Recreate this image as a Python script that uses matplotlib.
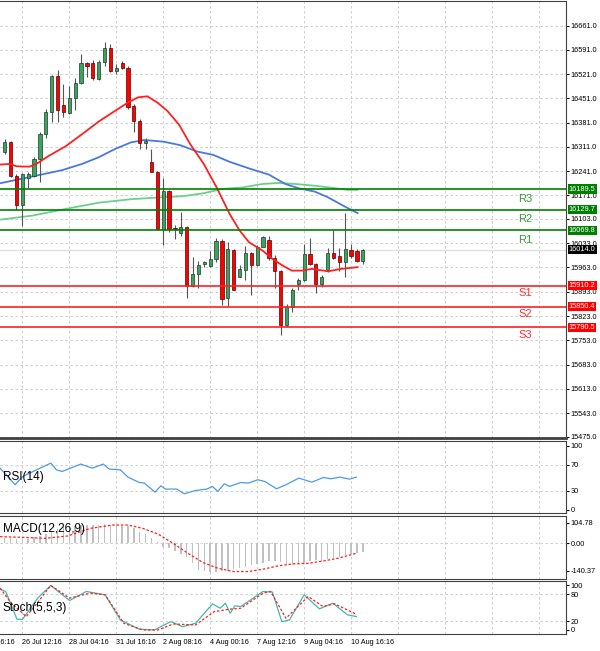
import matplotlib
matplotlib.use("Agg")
import matplotlib.pyplot as plt
import matplotlib.transforms as mtrans
import numpy as np

# ---------------- data ----------------
opens  = [16295,16326,16226,16144,16221,16228,16277,16348,16413,16515,16432,16409,16451,16495,16554,16554,16506,16557,16596,16529,16552,16539,16429,16386,16321,16268,16240,16074,16185,16077,16062,16080,15911,15943,15972,15966,15988,16039,15876,16014,15937,15956,16005,15969,16023,16043,15991,15954,15796,15849,15916,15928,16001,15974,15914,15956,16005,15995,15978,16014,16010,15981]
highs  = [16334,16329,16233,16236,16238,16281,16353,16420,16519,16532,16492,16488,16511,16578,16556,16561,16563,16614,16607,16550,16559,16543,16434,16391,16337,16305,16242,16221,16187,16087,16122,16084,15993,15983,15983,16012,16048,16044,16036,16017,15969,16026,16007,16029,16055,16055,15998,15956,15858,15905,15933,16031,16048,15976,15940,16020,16072,16020,16121,16031,16017,16017]
lows   = [16290,16223,16129,16083,16191,16223,16211,16336,16382,16382,16396,16406,16417,16492,16513,16504,16504,16543,16526,16521,16537,16420,16353,16305,16305,16238,16070,16029,16065,16046,16055,15875,15906,15904,15964,15964,15978,15854,15851,15897,15935,15928,15885,15966,16022,15985,15904,15767,15793,15834,15897,15924,15969,15889,15906,15950,15988,15952,15935,15991,15978,15974]
closes = [16324,16226,16144,16233,16233,16277,16348,16413,16515,16418,16412,16451,16495,16554,16545,16509,16557,16596,16529,16540,16540,16427,16386,16321,16329,16240,16074,16183,16074,16073,16079,15911,15943,15969,15980,15988,16039,15873,16017,15899,15959,16005,15969,16023,16050,15991,15954,15796,15849,15899,15928,16002,15974,15914,15937,16005,15991,15978,16016,15995,15981,16014]

ma_red_x = [-0.8,0.9,2.0,4.2,5.4,7.6,10.4,13.2,16.0,18.8,21.0,22.7,24.3,26.0,27.7,29.7,31.6,33.9,36.1,38.3,40.0,41.6,43.9,45.6,47.3,48.9,50.6,52.3,55.1,57.3,60.1]
ma_red_y = [16260,16262,16255,16254,16262,16286,16313,16348,16384,16415,16439,16454,16457,16439,16415,16375,16319,16262,16194,16118,16070,16036,16012,15988,15969,15954,15954,15959,15952,15959,15964]
ma_blue_x = [-0.8,4.8,9.8,13.2,16.0,18.8,21.5,23.8,27.1,29.9,32.7,35.5,38.3,41.6,45.0,47.8,50.0,52.8,55.0,57.8,60.1]
ma_blue_y = [16206,16226,16244,16262,16281,16305,16324,16331,16326,16316,16298,16288,16268,16249,16231,16204,16192,16182,16166,16140,16120]
ma_green_x = [-0.8,4.8,10.4,16.0,21.5,27.1,30.5,33.8,37.2,40.5,43.9,46.7,49.5,52.8,56.2,58.4,60.1]
ma_green_y = [16101,16113,16132,16150,16160,16166,16169,16177,16190,16194,16204,16207,16204,16199,16192,16187,16187]

res_levels = [16189.5, 16129.7, 16069.8]
res_names = ["R3", "R2", "R1"]
sup_levels = [15910.2, 15850.4, 15790.5]
sup_names = ["S1", "S2", "S3"]
last_price = 16014.0

price_ticks = [16661,16591,16521,16451,16381,16311,16241,16171,16103,16033,15963,15893,15823,15753,15683,15613,15543,15475]

rsi_x = [-0.79,1.77,3.06,7.86,8.81,9.77,12.97,14.9,16.8,17.8,19.7,21.0,22.9,23.8,25.6,26.6,27.4,29.3,30.6,32.5,34.4,35.4,36.3,37.4,38.3,40.2,41.5,43.1,44.3,46.3,47.9,50.1,52.3,54.3,55.5,57.1,58.7,59.9]
rsi_y = [64.8,38.9,51.8,72.6,62.2,59.6,71.1,64.8,71.1,63.3,62.2,50.8,42.5,41.5,27.5,37.3,32.2,32.2,24.9,30.0,32.2,36.3,28.5,40.4,36.3,42.5,41.5,46.7,44.1,32.7,38.9,49.3,43.0,50.3,48.2,50.8,47.7,50.8]

macd_hist = [28,25,22,22,24,30,38,48,60,75,82,86,90,92,94,95,95,96,95,93,90,86,76,60,45,28,5,-20,-25,-40,-55,-70,-100,-135,-142,-145,-145,-140,-140,-132,-128,-120,-112,-108,-98,-90,-90,-95,-112,-112,-105,-100,-90,-86,-88,-80,-74,-70,-62,-55,-50,-45]
macd_sig_x = [-0.79,3.05,6.89,10.7,14.6,18.4,21.0,23.5,26.1,28.7,31.2,33.8,36.3,38.9,41.5,44.0,46.6,49.1,51.7,54.3,56.8,59.9]
macd_sig_y = [33.7,30.3,25.2,37.1,76.1,93,93,76.1,47.3,-0.2,-51,-98.5,-127,-144,-144,-132,-115,-105,-102,-90,-76,-51]

stk_x = [-0.79,0.17,2.09,3.05,5.61,7.85,11.05,13.9,17.1,19.7,22.9,25.5,28.3,30.3,32.5,35.4,36.7,37.6,38.4,39.2,40.2,44.0,45.6,47.2,48.5,51.0,53.6,55.9,58.4,59.9]
stk_y = [91.8,86.5,24.1,24.1,71.5,100,66.2,86.5,79,22.6,2,0,18.8,7.5,15,58.7,48.9,60.2,37.6,54.2,52.7,86.5,85,18.8,22.6,79,47.4,60.2,33.9,30.1]
std_x = [-0.79,1.13,3.69,5.29,7.85,11.05,14.6,17.1,20.3,23.5,26.1,28.7,32.5,35.7,38.3,40.2,44.0,45.3,47.9,51.7,54.2,56.2,59.9]
std_y = [94,60.2,30.1,56.4,100,71.5,82.8,79,15,0,0,13.5,11.3,41.4,46.7,48.9,82.8,86.5,26.3,75.2,52.7,58.7,35.3]

grid_idx = [3,11,19,27,35,43,51,59,67,75,83,91]
date_labels = ["25 Jul 16:16","26 Jul 12:16","28 Jul 04:16","31 Jul 16:16","2 Aug 08:16","4 Aug 00:16","7 Aug 12:16","9 Aug 04:16","10 Aug 16:16"]
date_idx = [-5,3,11,19,27,35,43,51,59]

# ---------------- layout ----------------
W, H = 600, 651
fig = plt.figure(figsize=(6, 6.51), dpi=100)
fig.patch.set_facecolor("white")
R = 566 / W
FONT = "Liberation Sans"

def ax_px(top, bot):
    return fig.add_axes([0, 1 - bot / H, R, (bot - top) / H])

ax = ax_px(1, 438)
ax_rsi = ax_px(441, 513)
ax_macd = ax_px(516, 579)
ax_st = ax_px(581, 634)

XL = (-0.8, 95.6)
gridkw = dict(color="#c8c8c8", ls=(0, (3, 3)), lw=0.6)
for a in (ax, ax_rsi, ax_macd, ax_st):
    a.set_xlim(*XL)
    a.yaxis.tick_right()
    a.tick_params(axis="y", labelsize=5.3, length=2, pad=1.5, colors="black")
    for t in a.get_yticklabels():
        t.set_fontfamily(FONT)
    a.set_xticks(grid_idx)
    a.tick_params(axis="x", length=0, labelbottom=False)
    a.grid(True, axis="x", **gridkw)
    for s in a.spines.values():
        s.set_color("#404040"); s.set_linewidth(0.8)
    a.spines["left"].set_visible(False)
ax.spines["bottom"].set_linewidth(2)

# ---- main price chart ----
ax.set_ylim(15471, 16732)
ax.set_yticks(price_ticks)
ax.set_yticklabels([f"{t:.1f}" for t in price_ticks], fontfamily=FONT)
ax.grid(True, axis="y", **gridkw)
x = np.arange(len(opens))
o = np.array(opens); c = np.array(closes); h = np.array(highs); l = np.array(lows)
up = c >= o
ax.vlines(x, l, h, color="#555555", lw=0.8, zorder=3)
ax.bar(x[up], c[up] - o[up], bottom=o[up], width=0.55, color="#3aa35f", edgecolor="#1c3d28", lw=0.5, zorder=4)
ax.bar(x[~up], o[~up] - c[~up], bottom=c[~up], width=0.55, color="#ff0000", edgecolor="#5a0000", lw=0.5, zorder=4)

ax.plot(ma_green_x, ma_green_y, color="#6ccf8d", lw=1.3, zorder=2)
ax.plot(ma_blue_x, ma_blue_y, color="#4a78e0", lw=1.3, zorder=2)
ax.plot(ma_red_x, ma_red_y, color="#ff2020", lw=1.3, zorder=5)

ax.axhline(last_price, color="#e0e0e0", lw=1, zorder=1)
btrans = mtrans.blended_transform_factory(ax.transAxes, ax.transData)
boxkw = dict(transform=btrans, fontsize=5.3, color="white", va="center", ha="left",
             fontfamily=FONT, clip_on=False, zorder=10)
for lv, nm in zip(res_levels, res_names):
    ax.axhline(lv, color="#008000", lw=1.2, zorder=6)
    ax.text(88.6, lv - 28, nm, color="#3a9a3a", fontsize=8, ha="center", va="center", fontfamily=FONT)
    ax.text(1.005, lv, f"{lv:.1f}", bbox=dict(boxstyle="square,pad=0.15", fc="#008000", ec="none"), **boxkw)
for lv, nm in zip(sup_levels, sup_names):
    ax.axhline(lv, color="#ff2020", lw=1.2, zorder=6)
    ax.text(88.6, lv - 22, nm, color="#ff3030", fontsize=8, ha="center", va="center", fontfamily=FONT)
    ax.text(1.005, lv, f"{lv:.1f}", bbox=dict(boxstyle="square,pad=0.15", fc="#ff0000", ec="none"), **boxkw)
ax.text(1.005, last_price, f"{last_price:.1f}", bbox=dict(boxstyle="square,pad=0.15", fc="black", ec="none"), **boxkw)

# ---- RSI ----
ax_rsi.set_ylim(-5, 107)
ax_rsi.set_yticks([100, 70, 30, 0])
ax_rsi.set_yticklabels(["100", "70", "30", "0"], fontfamily=FONT)
for v in (70, 30):
    ax_rsi.axhline(v, **gridkw)
ax_rsi.plot(rsi_x, rsi_y, color="#4a9be8", lw=0.9)
ax_rsi.text(0.005, 0.5, "RSI(14)", transform=ax_rsi.transAxes, fontsize=8.5, va="center", fontfamily=FONT)

# ---- MACD ----
ax_macd.set_ylim(-182, 139)
ax_macd.set_yticks([104.78, 0, -140.37])
ax_macd.set_yticklabels(["104.78", "0.00", "-140.37"], fontfamily=FONT)
ax_macd.axhline(0, **gridkw)
ax_macd.bar(x, macd_hist, width=0.25, color="#c0c0c0")
ax_macd.plot(macd_sig_x, macd_sig_y, color="#ff2020", lw=0.9, ls=(0, (2, 1.5)))
ax_macd.text(0.005, 0.8, "MACD(12,26,9)", transform=ax_macd.transAxes, fontsize=8.5, va="center", fontfamily=FONT)

# ---- Stochastic ----
ax_st.set_ylim(-9, 110)
ax_st.set_yticks([100, 80, 20, 0])
ax_st.set_yticklabels(["100", "80", "20", "0"], fontfamily=FONT)
for v in (80, 20):
    ax_st.axhline(v, **gridkw)
ax_st.plot(stk_x, stk_y, color="#40b8b0", lw=0.9)
ax_st.plot(std_x, std_y, color="#ff2020", lw=0.9, ls=(0, (2, 1.5)))
ax_st.text(0.005, 0.5, "Stoch(5,5,3)", transform=ax_st.transAxes, fontsize=8.5, va="center", fontfamily=FONT)

# date labels
dtrans = mtrans.blended_transform_factory(ax_st.transData, fig.transFigure)
for di, dl in zip(date_idx, date_labels):
    ax_st.text(di - 0.1, 1 - 642 / H, dl, transform=dtrans, fontsize=5.2, ha="left", va="center",
               clip_on=False, fontfamily=FONT)

fig.savefig("out.png", dpi=100)
